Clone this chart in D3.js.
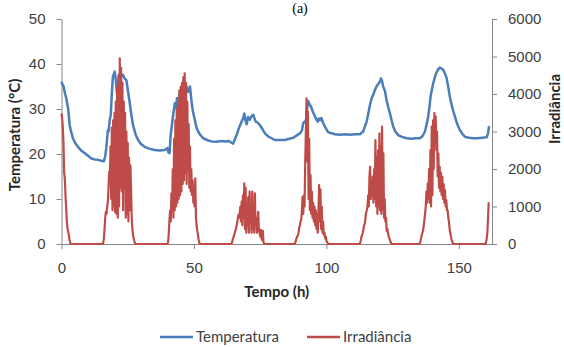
<!DOCTYPE html>
<html>
<head>
<meta charset="utf-8">
<script src="https://d3js.org/d3.v7.min.js"></script>
<style>
  body { margin: 0; background: #fff; }
  svg { font-family: Lato, 'Open Sans', sans-serif; display: block; }
  .axis path, .axis line { stroke: #868686; }
  .axis text { fill: #404040; font-size: 15px; }
</style>
</head>
<body>
<div id="chart"></div>
<script>
// temperature (°C)
const tempHours = [
  0, 0.4, 0.8, 1.3, 1.8, 2.5, 3.1, 3.7, 4.3, 5.2, 6.2, 7.4, 8.7, 10.0, 11.3, 12.5, 13.8, 15.0, 16.0,
  16.5, 16.9, 17.5, 17.8, 18.2, 18.6, 19.0, 19.4, 20.1, 20.5, 21.0, 21.5, 22.0, 22.6, 23.2, 23.8, 24.5, 25.1, 25.7, 26.3, 27.0, 28.0, 28.9, 30.0, 31.4, 33.0, 35.2, 37.0, 38.9, 40.0,
  40.4, 40.8, 41.2, 41.7, 42.2, 42.8, 43.2, 43.6, 44.1, 44.7, 45.3, 46.0, 46.6, 47.2, 47.8, 48.5, 49.1, 49.6, 50.4, 51.0, 51.6, 52.3, 53.5, 55.4, 56.7, 58.5, 60.5, 62.0, 63.0, 64.2, 64.8,
  65.4, 66.1, 67.0, 68.0, 68.6, 69.0, 69.4, 69.9, 70.4, 71.1, 71.7, 72.4, 72.9, 73.3, 74.0, 74.9, 75.8, 76.8, 78.0, 79.3, 80.6, 82.5, 84.3, 86.0, 87.5,
  89.0, 90.0, 90.8, 91.2, 91.8, 92.2, 92.6, 93.1, 93.5, 94.2, 94.8, 95.4, 96.1, 96.7, 97.1, 97.6, 98.1, 98.7, 99.4, 100.7, 102.0, 103.2, 105.0, 107.0, 109.0, 110.8, 112.6,
  113.9, 114.5, 115.2, 115.8, 116.4, 117.1, 117.7, 118.3, 118.9, 119.5, 120.2, 120.6, 121.0, 121.4, 122.1, 122.7, 123.3, 124.0, 124.6, 125.2, 126.0, 127.1, 128.5, 130.3, 132.0, 133.5, 135.3,
  136.3, 137.2, 137.8, 138.4, 138.9, 139.3, 139.8, 140.3, 141.0, 141.6, 142.2, 142.8, 143.4, 144.1, 144.8, 145.4, 146.0, 146.6, 147.5, 148.5, 149.4, 150.4, 151.3, 152.3, 153.8, 155.4, 157.0, 158.8, 160.5, 161.0, 161.4
];
const tempValues = [
  36.1, 35.4, 35.0, 33.5, 32.4, 30.1, 26.4, 24.8, 23.5, 22.4, 21.6, 20.8, 20.2, 19.6, 19.0, 18.8, 18.7, 18.5, 18.4,
  19.5, 21.3, 25.3, 25.0, 27.5, 28.7, 33.5, 37.2, 38.3, 36.5, 33.1, 36.0, 37.9, 37.2, 37.6, 36.8, 36.4, 34.0, 31.6, 29.0, 26.4, 24.3, 23.1, 22.2, 21.6, 21.2, 20.9, 20.8, 20.9, 21.3,
  20.3, 20.2, 24.2, 26.5, 29.0, 31.3, 30.2, 32.4, 31.5, 33.8, 32.8, 31.5, 34.0, 35.0, 33.8, 35.0, 31.6, 29.5, 27.4, 25.8, 25.0, 24.3, 23.5, 23.0, 22.8, 22.7, 22.9, 22.8, 22.9, 22.5, 22.3,
  23.2, 24.2, 25.8, 27.2, 28.0, 29.0, 27.5, 26.6, 28.2, 27.6, 28.4, 28.7, 27.8, 27.2, 27.0, 26.4, 25.6, 24.6, 23.9, 23.5, 23.1, 23.1, 23.1, 23.4, 23.6,
  24.2, 24.6, 25.3, 26.8, 27.2, 27.0, 29.5, 31.8, 31.2, 30.5, 29.5, 28.7, 27.8, 27.2, 27.9, 27.5, 28.0, 27.0, 26.1, 24.8, 24.6, 24.4, 24.3, 24.4, 24.3, 24.4, 24.4,
  25.0, 26.1, 27.2, 29.0, 30.8, 32.5, 33.2, 34.2, 35.0, 35.5, 36.1, 36.8, 36.2, 35.0, 34.0, 32.0, 30.5, 29.0, 27.5, 26.1, 25.0, 24.2, 23.8, 23.5, 23.4, 23.5, 23.5,
  24.0, 25.0, 26.5, 28.3, 30.5, 32.7, 34.3, 35.7, 37.2, 38.2, 38.8, 39.2, 39.0, 38.7, 37.8, 36.8, 34.8, 32.7, 30.3, 28.3, 26.6, 25.3, 24.5, 23.8, 23.6, 23.5, 23.5, 23.6, 23.7, 24.6, 26.2
];

// irradiance, sampled every 15 min during each day; zero at night
const irrStep = 0.25;
const irrStart = [0, 15.5, 40, 64, 88, 112.5, 135, 160];
const irrDay1 = [3480, 3350, 3100, 2700, 1900, 1750, 1300, 1000, 600, 420, 330, 250, 120, 40, 0];
const irrDay2 = [0, 30, 150, 400, 700, 860, 800, 1000, 1130, 1500, 1930, 1600, 2600, 1200, 3100, 900, 3300, 1000, 3500, 850,
  3800, 800, 4200, 700, 4500, 1000, 4950, 1500, 4700, 1400, 4300, 900, 3800, 1500, 3500, 700, 3000, 800, 2700, 600,
  2300, 900, 2100, 1500, 700, 400, 250, 150, 80, 20, 0];
const irrDay3 = [0, 50, 300, 640, 900, 600, 1350, 900, 2000, 700, 2800, 900, 3300, 1000, 3600, 1100, 3800, 1200, 4100, 1300,
  4200, 1400, 4300, 1600, 4450, 1700, 4550, 1900, 4300, 1600, 3800, 2000, 3200, 1500, 2600, 1400, 2000, 1300, 1700, 1100,
  1200, 1000, 1750, 700, 500, 350, 250, 120, 40, 0];
const irrDay4 = [0, 20, 80, 150, 200, 250, 330, 380, 460, 550, 650, 770, 700, 820, 1000, 600, 1130, 500, 1300, 700,
  1620, 400, 1500, 300, 1000, 500, 1250, 300, 1400, 600, 1000, 300, 1400, 400, 900, 300, 1350, 500, 700, 300,
  600, 860, 400, 300, 200, 380, 150, 100, 350, 60, 0];
const irrDay5 = [0, 40, 100, 160, 200, 240, 300, 450, 500, 600, 650, 900, 1260, 800, 1300, 1000, 2200, 3000, 3885, 2200,
  3530, 1200, 2800, 900, 1840, 800, 1400, 700, 1100, 600, 1000, 500, 900, 400, 800, 300, 900, 1570, 600, 1450,
  400, 1000, 300, 600, 250, 300, 150, 200, 80, 50, 20, 0];
const irrDay6 = [0, 30, 100, 200, 250, 300, 400, 500, 550, 700, 850, 900, 1000, 1300, 1000, 1800, 2060, 1200, 1530, 1300,
  1800, 1100, 2000, 1200, 2770, 1000, 2300, 800, 2500, 1000, 2950, 900, 2600, 800, 3130, 900, 2420, 700, 1200, 600,
  700, 350, 400, 285, 200, 150, 100, 50, 20, 0];
const irrDay7 = [0, 20, 80, 150, 250, 300, 370, 500, 650, 820, 1000, 1400, 1100, 1620, 1200, 2000, 1100, 2500, 1000, 3130,
  1300, 3300, 2000, 3490, 2800, 3400, 2500, 3000, 1800, 2420, 1500, 2060, 1400, 1900, 1300, 1790, 1200, 1600, 1100, 1440,
  1000, 1170, 900, 900, 700, 600, 400, 300, 200, 120, 60, 20, 0];
const irrDay8 = [0, 50, 150, 300, 700, 1090, 1090];
const irrDays = [irrDay1, irrDay2, irrDay3, irrDay4, irrDay5, irrDay6, irrDay7, irrDay8];

const xTicks = [0, 50, 100, 150];
const tempTicks = [0, 10, 20, 30, 40, 50];
const irrTicks = [0, 1000, 2000, 3000, 4000, 5000, 6000];

const W = 564, H = 347;
const plotL = 61.5, plotR = 492, plotT = 19, plotB = 244;
const blue = "#4a7ebb", red = "#be4b48";

const svg = d3.select("#chart").append("svg").attr("width", W).attr("height", H);

const x = d3.scaleLinear().domain([0, 162.5]).range([plotL, plotR]);
const yT = d3.scaleLinear().domain([0, 50]).range([plotB, plotT]);
const yI = d3.scaleLinear().domain([0, 6000]).range([plotB, plotT]);

// axes
svg.append("g").attr("class", "axis").attr("transform", `translate(${plotL},0)`)
  .call(d3.axisLeft(yT).tickValues(tempTicks).tickSize(5).tickSizeOuter(0).tickPadding(11));
svg.append("g").attr("class", "axis").attr("transform", `translate(${plotR},0)`)
  .call(d3.axisRight(yI).tickValues(irrTicks).tickFormat(d3.format("d")).tickSize(5).tickSizeOuter(0).tickPadding(11));
const xg = svg.append("g").attr("class", "axis").attr("transform", `translate(0,${plotB})`)
  .call(d3.axisBottom(x).tickValues(xTicks).tickSize(5).tickSizeOuter(0));
xg.selectAll("text").attr("y", 29).attr("dy", 0);

// titles
svg.append("text").attr("x", 300).attr("y", 13).attr("text-anchor", "middle")
  .attr("font-family", "Liberation Serif, serif").attr("font-size", 14).attr("fill", "#000").text("(a)");
svg.append("text").attr("transform", "translate(20,135) rotate(-90)").attr("text-anchor", "middle")
  .attr("font-weight", "bold").attr("font-size", 15).attr("fill", "#262626").text("Temperatura (°C)");
svg.append("text").attr("transform", "translate(560,109) rotate(-90)").attr("text-anchor", "middle")
  .attr("font-weight", "bold").attr("font-size", 15).attr("fill", "#262626").text("Irradiância");
svg.append("text").attr("x", (plotL + plotR) / 2).attr("y", 297).attr("text-anchor", "middle")
  .attr("font-weight", "bold").attr("font-size", 15).attr("fill", "#262626").text("Tempo (h)");

// series
const tempData = tempHours.map((h, i) => [h, tempValues[i]]);
const irrData = irrDays.flatMap((vals, d) => vals.map((v, j) => [irrStart[d] + j * irrStep, v]));

svg.append("path").datum(tempData)
  .attr("fill", "none").attr("stroke", blue).attr("stroke-width", 2.5).attr("stroke-linejoin", "round")
  .attr("d", d3.line().x(d => x(d[0])).y(d => yT(d[1])));
svg.append("path").datum(irrData)
  .attr("fill", "none").attr("stroke", red).attr("stroke-width", 2.2).attr("stroke-linejoin", "round")
  .attr("d", d3.line().x(d => x(d[0])).y(d => yI(d[1])));

// legend
const legend = [["Temperatura", blue, 160], ["Irradiância", red, 307]];
legend.forEach(([name, col, lx]) => {
  svg.append("line").attr("x1", lx).attr("x2", lx + 33).attr("y1", 337).attr("y2", 337)
    .attr("stroke", col).attr("stroke-width", 2.5);
  svg.append("text").attr("x", lx + 36).attr("y", 337).attr("dy", "0.35em")
    .attr("font-size", 15).attr("fill", "#404040").text(name);
});
</script>
</body>
</html>
